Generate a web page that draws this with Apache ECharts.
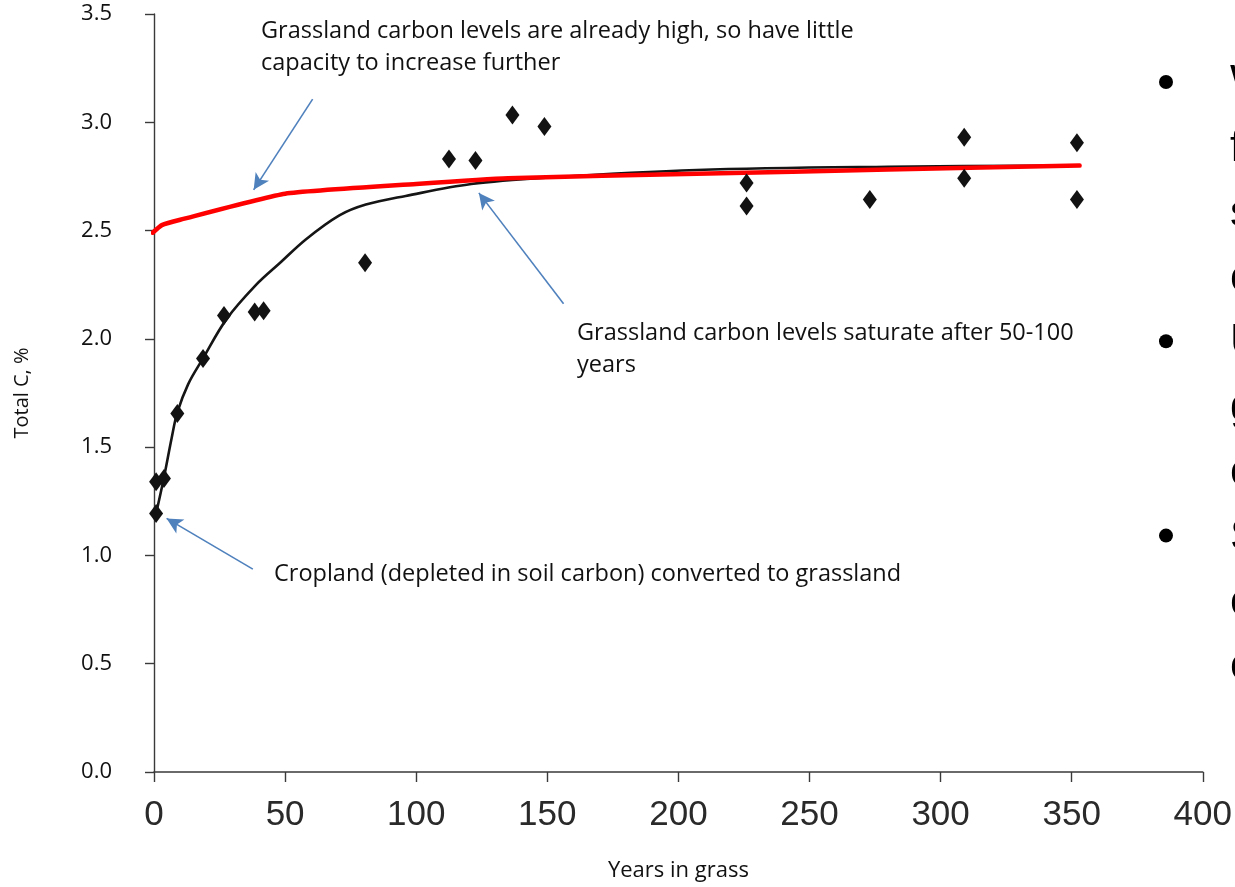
<!DOCTYPE html>
<html>
<head>
<meta charset="utf-8">
<script src="https://cdn.jsdelivr.net/npm/echarts@6/dist/echarts.min.js"></script>
<style>
html,body{margin:0;padding:0;background:#fff;overflow:hidden;}
#c{width:1235px;height:887px;}
</style>
</head>
<body>
<div id="c"></div>
<script>
// ---- data ----
const obsYears  = [0.8, 0.8, 3.8, 8.9, 18.7, 26.7, 38.4, 41.8, 80.5, 112.5, 122.6, 136.7, 148.9, 226, 226, 273, 309, 309, 352, 352];
const obsCarbon = [1.34, 1.194, 1.355, 1.655, 1.909, 2.108, 2.124, 2.13, 2.351, 2.831, 2.823, 3.034, 2.98, 2.72, 2.613, 2.643, 2.931, 2.742, 2.905, 2.643];

const fitYears  = [0.8, 3.8, 6.7, 8.9, 13, 18.7, 27.6, 39, 48, 58, 70.7, 80.8, 96, 121, 150, 207, 280, 353];
const fitCarbon = [1.194, 1.36, 1.54, 1.66, 1.79, 1.91, 2.09, 2.25, 2.35, 2.46, 2.57, 2.62, 2.66, 2.715, 2.745, 2.78, 2.795, 2.80];

const grassYears  = [-0.5, 3, 10, 50, 100, 135, 207, 280, 353];
const grassCarbon = [2.49, 2.525, 2.55, 2.67, 2.715, 2.742, 2.762, 2.782, 2.80];

const xTicks = [0, 50, 100, 150, 200, 250, 300, 350, 400];
const yTicks = [0.0, 0.5, 1.0, 1.5, 2.0, 2.5, 3.0, 3.5];

// annotation arrows (tail -> head) in data units
const arrowTails = [[60.5, 3.107], [156.2, 2.162], [37.7, 0.937]];
const arrowHeads = [[38.0, 2.688], [123.9, 2.674], [4.8, 1.171]];

const notes = [
  "Grassland carbon levels are already high, so have little\ncapacity to increase further",
  "Grassland carbon levels saturate after 50-100\nyears",
  "Cropland (depleted in soil carbon) converted to grassland"
];

const sideLetters = ["W", "f", "s", "c", "U", "g", "c", "S", "c", "c"];
const sideBulletLines = [0, 4, 7];

// ---- chart ----
const chart = echarts.init(document.getElementById('c'), null, {renderer: 'canvas'});
const zip = (a, b) => a.map((v, i) => [v, b[i]]);
const axisColor = '#3a3a3a';
const arrowColor = '#4f81bd';

const option = {
  animation: false,
  backgroundColor: '#ffffff',
  grid: {left: 154, right: 29, top: 14, bottom: 113, containLabel: false},
  xAxis: {
    type: 'value', min: xTicks[0], max: xTicks[xTicks.length - 1], interval: 50,
    splitLine: {show: false},
    axisLine: {onZero: false, lineStyle: {color: axisColor, width: 1.6}},
    axisTick: {inside: false, length: 10, lineStyle: {color: axisColor, width: 1.4}},
    axisLabel: {margin: 26, color: '#2a2a2a', fontFamily: '"Liberation Sans Narrow", "Liberation Sans", Arial', fontSize: 35},
    name: 'Years in grass', nameLocation: 'middle', nameGap: 88,
    nameTextStyle: {fontFamily: '"Open Sans", sans-serif', fontSize: 22, color: '#111'}
  },
  yAxis: {
    type: 'value', min: yTicks[0], max: yTicks[yTicks.length - 1], interval: 0.5,
    splitLine: {show: false},
    axisLine: {onZero: false, lineStyle: {color: axisColor, width: 1.4}},
    axisTick: {inside: false, length: 9, lineStyle: {color: axisColor, width: 1.4}},
    axisLabel: {margin: 42, color: '#111', fontFamily: '"Open Sans", sans-serif', fontSize: 22,
      formatter: v => v.toFixed(1)},
    name: 'Total C, %', nameLocation: 'middle', nameGap: 122, nameRotate: 90,
    nameTextStyle: {fontFamily: '"Open Sans", sans-serif', fontSize: 20, color: '#111'}
  },
  series: [
    {
      type: 'line', name: 'fit', data: zip(fitYears, fitCarbon), smooth: 0.35,
      showSymbol: false, symbol: 'none', silent: true, z: 2,
      lineStyle: {color: '#151515', width: 2.6}
    },
    {
      type: 'line', name: 'grassland', data: zip(grassYears, grassCarbon), smooth: 0.15,
      showSymbol: false, symbol: 'none', silent: true, z: 3,
      lineStyle: {color: '#ff0000', width: 4.5, cap: 'round'}
    },
    {
      type: 'scatter', name: 'obs', data: zip(obsYears, obsCarbon),
      symbol: 'diamond', symbolSize: [14, 19], z: 4,
      itemStyle: {color: '#121212', opacity: 1},
      markLine: {
        silent: true, animation: false,
        symbol: ['none', 'arrow'], symbolSize: [12, 16],
        label: {show: false},
        lineStyle: {color: arrowColor, width: 1.6, type: 'solid', opacity: 1},
        data: arrowTails.map((t, i) => [{coord: t}, {coord: arrowHeads[i]}])
      }
    }
  ],
  graphic: []
};
chart.setOption(option);

// annotation texts and clipped side text
const noteFont = '23.5px "Open Sans", sans-serif';
const g = [
  {type: 'text', left: 261, top: 15, style: {text: notes[0], font: noteFont, fill: '#111', lineHeight: 32}},
  {type: 'text', left: 577, top: 317, style: {text: notes[1], font: noteFont, fill: '#111', lineHeight: 32}},
  {type: 'text', left: 274, top: 558, style: {text: notes[2], font: noteFont, fill: '#111', lineHeight: 32}}
];
const firstBaseline = 97, pitch = 64.8, sideFont = 44;
sideLetters.forEach((ch, i) => {
  g.push({type: 'text', x: 1230, y: firstBaseline + pitch * i - 35,
    style: {text: ch, font: sideFont + 'px "Liberation Sans", Arial', fill: '#000'}});
});
sideBulletLines.forEach(i => {
  g.push({type: 'circle', shape: {cx: 1166, cy: firstBaseline + pitch * i - 15, r: 7}, style: {fill: '#000'}});
});
chart.setOption({graphic: g});
</script>
</body>
</html>
